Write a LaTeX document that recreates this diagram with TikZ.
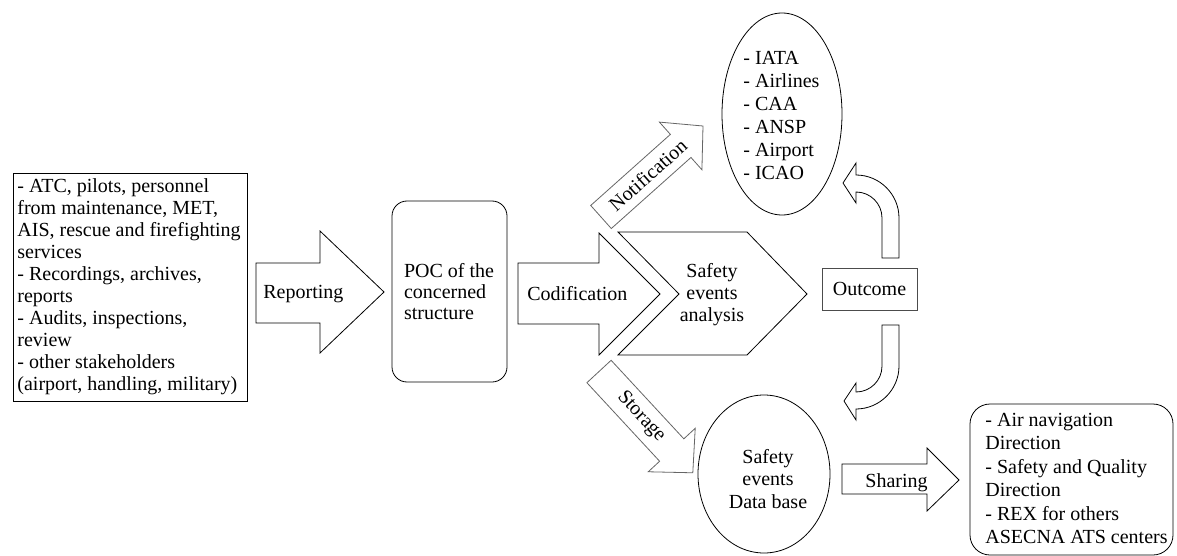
\documentclass[tikz,border=0pt]{standalone}
\usepackage{fontspec}
\setmainfont{Liberation Serif}
\usetikzlibrary{shapes.geometric}
\begin{document}
\begin{tikzpicture}[x=1pt,y=-1pt,line width=0.8pt,
  txt/.style={inner sep=0pt,font=\fontsize{20}{22}\selectfont},
  frame/.style={draw=black,fill=white},
  blockarrow/.style={draw=black,fill=white,line join=miter},
  softarrow/.style={draw=black!60,fill=white,line join=miter},
  bubble/.style={draw=black,ellipse,inner sep=0pt}]
\useasboundingbox (0,0) rectangle (1177,556);

% sources of information
\node[frame,minimum width=234,minimum height=228] (src) at (130,287) {};
\node[txt,align=left,anchor=west] (srctext) at (17,287)
  {- ATC, pilots, personnel\\from maintenance, MET,\\AIS, rescue and firefighting\\services\\- Recordings, archives,\\reports\\- Audits, inspections,\\review\\- other stakeholders\\(airport, handling, military)};

% reporting arrow
\draw[blockarrow] (256,263) -- (320,263) -- (320,231) -- (384,292) -- (320,353) -- (320,323) -- (256,323) -- cycle;
\node[txt,anchor=base west] (reporting) at (263,298) {Reporting};

% point of contact
\node[frame,rounded corners=15,minimum width=115,minimum height=181] (poc) at (449.5,291.5) {};
\node[txt,align=left,font=\fontsize{20}{21}\selectfont] (poctext) at (449,292) {POC of the\\concerned\\structure};

% codification arrow
\draw[blockarrow] (518,263) -- (599,263) -- (599,233) -- (660,294) -- (599,355) -- (599,324) -- (518,324) -- cycle;
\node[txt,anchor=base west] (codif) at (527,300) {Codification};

% analysis chevron
\draw[blockarrow] (618,232) -- (747,232) -- (807,294) -- (747,355) -- (618,355) -- (679,294) -- cycle;
\node[txt,align=center] (analysis) at (712,295) {Safety\\events\\analysis};

% notification arrow
\begin{scope}[shift={(601,217)},x={(0.7445pt,0.6642pt)},y={(0.6642pt,-0.7445pt)}]
  \draw[softarrow] (0,-15.5) -- (107,-15.5) -- (107,-32) -- (137,0) -- (107,32) -- (107,15.5) -- (0,15.5) -- cycle;
  \node[txt,rotate=41.7] (notif) at (63,0) {Notification};
\end{scope}

% storage arrow
\begin{scope}[shift={(599,371.5)},x={(0.6797pt,-0.7339pt)},y={(0.7339pt,0.6797pt)}]
  \draw[softarrow] (0,-16.5) -- (107,-16.5) -- (107,-32) -- (138,0) -- (107,32) -- (107,16.5) -- (0,16.5) -- cycle;
  \node[txt,rotate=-47.2] (stor) at (62,0) {Storage};
\end{scope}

% recipients of notifications
\node[bubble,minimum width=120,minimum height=202] (recv) at (782,114) {};
\node[txt,align=left,anchor=west,font=\fontsize{20}{23}\selectfont] (recvtext) at (743,115.5)
  {- IATA\\- Airlines\\- CAA\\- ANSP\\- Airport\\- ICAO};

% outcome
\node[txt,draw=black!70,minimum width=95,minimum height=42] (out) at (869.5,289) {Outcome};

% curved arrow up towards the recipients
\draw[blockarrow] (882,258) -- (899,258) -- (899,218)
  .. controls (899,194.3) and (879.7,175) .. (856,175)
  -- (856,163) -- (843,183) -- (856,203) -- (856,192)
  .. controls (870.4,192) and (882,203.6) .. (882,218) -- cycle;

% curved arrow down towards the data base
\draw[blockarrow] (882,325) -- (899,325) -- (899,366)
  .. controls (899,389.7) and (879.7,409) .. (856,409)
  -- (856,420) -- (844,401) -- (856,383) -- (856,392)
  .. controls (870.4,392) and (882,380.4) .. (882,366) -- cycle;

% data base
\node[bubble,minimum width=132,minimum height=158] (db) at (764,474) {};
\node[txt,align=center,font=\fontsize{20}{22.5}\selectfont] (dbtext) at (768,479) {Safety\\events\\Data base};

% sharing arrow
\draw[blockarrow] (842,464) -- (927,464) -- (927,448) -- (959,480) -- (927,511) -- (927,494) -- (842,494) -- cycle;
\node[txt,anchor=base west] (sharing) at (865,487) {Sharing};

% recipients of shared information
\node[frame,rounded corners=20,minimum width=203,minimum height=151] (dest) at (1071.5,479.5) {};
\node[txt,align=left,anchor=west,font=\fontsize{20}{23.4}\selectfont] (desttext) at (985,478.5)
  {- Air navigation\\Direction\\- Safety and Quality\\Direction\\- REX for others\\ASECNA ATS centers};
\end{tikzpicture}
\end{document}
